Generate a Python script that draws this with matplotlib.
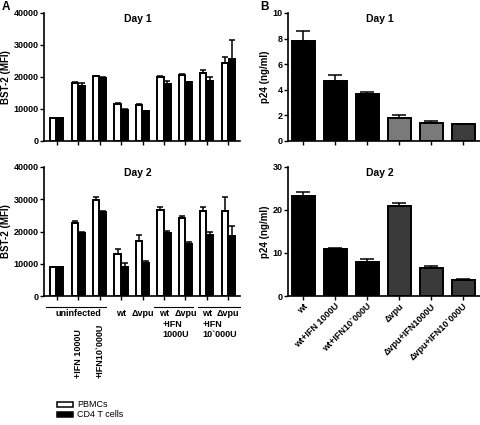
import matplotlib
matplotlib.use("Agg")
import matplotlib.pyplot as plt
import numpy as np

plt.rcParams['font.family'] = ['Liberation Sans', 'DejaVu Sans']
plt.rcParams['font.weight'] = 'bold'

# Panel A data (9 conditions, PBMCs vs CD4 T cells)
a_conditions = ["uninfected", "+IFN 1000U", "+IFN10`000U", "wt", "Δvpu",
                "wt+IFN1000U", "Δvpu+IFN1000U", "wt+IFN10`000U", "Δvpu+IFN10`000U"]
a_day1_pbmc = [7300, 18000, 20200, 11500, 11100, 19900, 20700, 21300, 24500]
a_day1_pbmc_err = [0, 500, 250, 250, 400, 300, 300, 800, 1700]
a_day1_cd4 = [7200, 17200, 19700, 9700, 9400, 17900, 18400, 18900, 25500]
a_day1_cd4_err = [0, 800, 400, 200, 0, 900, 0, 1200, 6200]
a_day2_pbmc = [9000, 22600, 29900, 13000, 17000, 26800, 24200, 26300, 26300]
a_day2_pbmc_err = [0, 700, 800, 1700, 1800, 900, 500, 1200, 4500]
a_day2_cd4 = [8900, 19400, 26000, 9000, 10100, 19400, 16100, 19000, 18500]
a_day2_cd4_err = [0, 500, 300, 1200, 800, 700, 700, 700, 3200]

# Panel B data
b_labels = ["wt", "wt+IFN 1000U", "wt+IFN10`000U", "Δvpu", "Δvpu+IFN1000U", "Δvpu+IFN10`000U"]
b_day1 = [7.8, 4.72, 3.7, 1.78, 1.4, 1.3]
b_day1_err = [0.8, 0.4, 0.15, 0.28, 0.15, 0.06]
b_day2 = [23.3, 11.0, 8.0, 21.0, 6.6, 3.7]
b_day2_err = [0.8, 0.15, 0.7, 0.7, 0.3, 0.15]
b_day1_colors = ["black", "black", "black", "#7a7a7a", "#7a7a7a", "#3c3c3c"]
b_day2_colors = ["black", "black", "black", "#3a3a3a", "#3a3a3a", "#3a3a3a"]

W, H = 481, 425
fig = plt.figure(figsize=(W / 100, H / 100), dpi=100)


def add_ax(x0, x1, ytop, ybot):
    return fig.add_axes([x0 / W, 1 - ybot / H, (x1 - x0) / W, (ybot - ytop) / H])


def style(ax):
    for s in ["top", "right"]:
        ax.spines[s].set_visible(False)
    for s in ["left", "bottom"]:
        ax.spines[s].set_linewidth(1.2)
    ax.tick_params(axis="both", width=1.0, length=3, labelsize=6.5, pad=1)
    for lab in ax.get_yticklabels():
        lab.set_fontweight("bold")


lw = 1.4
ekw = dict(ecolor="black", elinewidth=1.1, capsize=2, capthick=1.1, fmt="none")


def panel_a(ax, pbmc, pbmc_err, cd4, cd4_err, title):
    x = np.arange(len(pbmc))
    w = 0.29
    ax.bar(x - 0.165, pbmc, w, color="white", edgecolor="black", linewidth=lw, zorder=2)
    ax.bar(x + 0.165, cd4, w, color="black", edgecolor="black", linewidth=lw, zorder=2)
    ax.errorbar(x - 0.165, pbmc, yerr=[np.zeros(len(pbmc)), pbmc_err], zorder=3, **ekw)
    ax.errorbar(x + 0.165, cd4, yerr=[np.zeros(len(cd4)), cd4_err], zorder=3, **ekw)
    ax.set_xlim(-0.6, 8.55)
    ax.set_ylim(0, 40000)
    ax.set_yticks([0, 10000, 20000, 30000, 40000])
    ax.set_xticks(x)
    ax.set_xticklabels([])
    ax.set_ylabel("BST-2 (MFI)", fontsize=7, fontweight="bold", labelpad=2)
    ax.text(0.48, 0.99, title, transform=ax.transAxes, ha="center", va="top",
            fontsize=7.5, fontweight="bold")
    style(ax)


def panel_b(ax, vals, errs, colors, ymax, yticks, title):
    x = np.arange(len(vals))
    ax.bar(x, vals, 0.72, color=colors, edgecolor="black", linewidth=lw, zorder=2)
    ax.errorbar(x, vals, yerr=[np.zeros(len(vals)), errs], zorder=3,
                ecolor="black", elinewidth=1.1, capsize=5, capthick=1.1, fmt="none")
    ax.set_xlim(-0.47, 5.53)
    ax.set_ylim(0, ymax)
    ax.set_yticks(yticks)
    ax.set_xticks(x)
    ax.set_xticklabels([])
    ax.set_ylabel("p24 (ng/ml)", fontsize=7, fontweight="bold", labelpad=2)
    ax.text(0.48, 0.99, title, transform=ax.transAxes, ha="center", va="top",
            fontsize=7.5, fontweight="bold")
    style(ax)


axA1 = add_ax(44, 240, 13, 141)
panel_a(axA1, a_day1_pbmc, a_day1_pbmc_err, a_day1_cd4, a_day1_cd4_err, "Day 1")
axA2 = add_ax(44, 240, 167, 296)
panel_a(axA2, a_day2_pbmc, a_day2_pbmc_err, a_day2_cd4, a_day2_cd4_err, "Day 2")

axB1 = add_ax(288, 480, 13, 141)
panel_b(axB1, b_day1, b_day1_err, b_day1_colors, 10, [0, 2, 4, 6, 8, 10], "Day 1")
axB2 = add_ax(288, 480, 167, 296)
panel_b(axB2, b_day2, b_day2_err, b_day2_colors, 30, [0, 10, 20, 30], "Day 2")

# Bottom B tick labels rotated
axB2.set_xticklabels(b_labels, rotation=45, ha="right", rotation_mode="anchor",
                     fontsize=6.5, fontweight="bold")

# Panel A custom group labels
trans = axA2.get_xaxis_transform()


def fy(ypix):
    # convert figure pixel y to axes-fraction y of axA2
    return (296 - ypix) / (296 - 167)


tf = dict(transform=trans, clip_on=False, fontsize=6.5, fontweight="bold")
axA2.plot([-0.52, 2.3], [fy(307), fy(307)], transform=trans, clip_on=False,
          color="black", lw=0.8)
axA2.plot([4.52, 6.35], [fy(307), fy(307)], transform=trans, clip_on=False,
          color="black", lw=0.8)
axA2.plot([6.6, 8.55], [fy(307), fy(307)], transform=trans, clip_on=False,
          color="black", lw=0.8)
axA2.text(1.0, fy(314), a_conditions[0], ha="center", va="center", **tf)
axA2.text(1.0, fy(378), a_conditions[1], ha="center", va="bottom", rotation=90, **tf)
axA2.text(2.0, fy(378), a_conditions[2], ha="center", va="bottom", rotation=90, **tf)
axA2.text(3.0, fy(314), "wt", ha="center", va="center", **tf)
axA2.text(4.0, fy(314), "Δvpu", ha="center", va="center", **tf)
axA2.text(5.0, fy(314), "wt", ha="center", va="center", **tf)
axA2.text(6.0, fy(314), "Δvpu", ha="center", va="center", **tf)
axA2.text(7.0, fy(314), "wt", ha="center", va="center", **tf)
axA2.text(8.0, fy(314), "Δvpu", ha="center", va="center", **tf)
axA2.text(4.95, fy(320), "+IFN\n1000U", ha="left", va="top", linespacing=1.1, **tf)
axA2.text(6.8, fy(320), "+IFN\n10`000U", ha="left", va="top", linespacing=1.1, **tf)

# Legend (manual patches in figure coords)
from matplotlib.patches import Rectangle
fig.patches.append(Rectangle((57 / W, 1 - 407 / H), 16 / W, 5 / H, transform=fig.transFigure,
                             facecolor="white", edgecolor="black", linewidth=1.1))
fig.patches.append(Rectangle((57 / W, 1 - 417 / H), 16 / W, 5 / H, transform=fig.transFigure,
                             facecolor="black", edgecolor="black", linewidth=1.1))
fig.text(77 / W, 1 - 404.5 / H, "PBMCs", fontsize=6.5, fontweight="normal", va="center", ha="left")
fig.text(77 / W, 1 - 414.5 / H, "CD4 T cells", fontsize=6.5, fontweight="normal", va="center", ha="left")

# Panel letters
fig.text(2 / W, 1 - 7 / H, "A", fontsize=8.5, fontweight="bold", va="center", ha="left")
fig.text(260 / W, 1 - 7 / H, "B", fontsize=8.5, fontweight="bold", va="center", ha="left")

fig.savefig("out.png", dpi=100)
